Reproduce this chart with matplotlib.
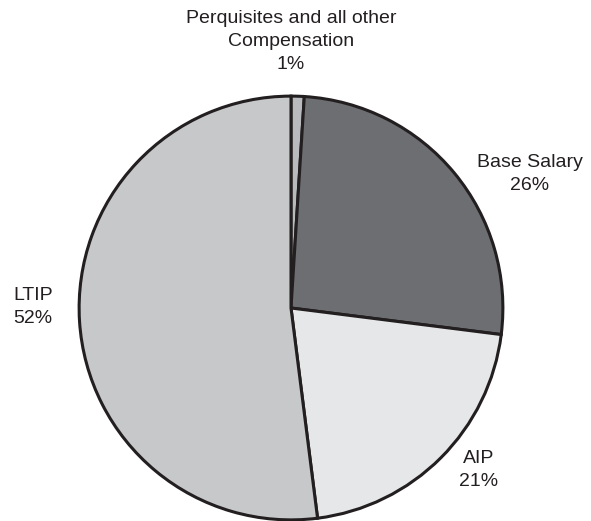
import matplotlib
matplotlib.use("Agg")
from matplotlib import pyplot as plt

labels = ["Perquisites and all other\nCompensation", "Base Salary", "AIP", "LTIP"]
values = [1, 26, 21, 52]
colors = ["#b9babd", "#6d6e71", "#e6e7e8", "#c7c8ca"]

plt.rcParams['font.family'] = ['Liberation Sans', 'DejaVu Sans']

W, H = 591, 521
fig = plt.figure(figsize=(W / 100, H / 100), dpi=100)

# pie centre and radius in pixels
cx, cy, r = 291, 308, 214
ax = fig.add_axes([(cx - r) / W, (H - cy - r) / H, 2 * r / W, 2 * r / H])
ax.pie(values, colors=colors, startangle=90, counterclock=False,
       wedgeprops=dict(edgecolor="#231f20", linewidth=2.2))
ax.set_xlim(-1.01, 1.01)
ax.set_ylim(-1.01, 1.01)
ax.set_aspect("equal")
ax.axis("off")

txt = dict(fontsize=14, color="#231f20", linespacing=1.45)

def lab(i, x, y, ha="center"):
    s = labels[i] + "\n" + str(values[i]) + "%"
    fig.text(x / W, 1 - y / H, s, ha=ha, va="top", multialignment=ha, **txt)

lab(0, 291, 10)
lab(1, 530, 154)
lab(2, 479, 450)
lab(3, 13, 287, ha="left")

fig.savefig("out.png", dpi=100)
